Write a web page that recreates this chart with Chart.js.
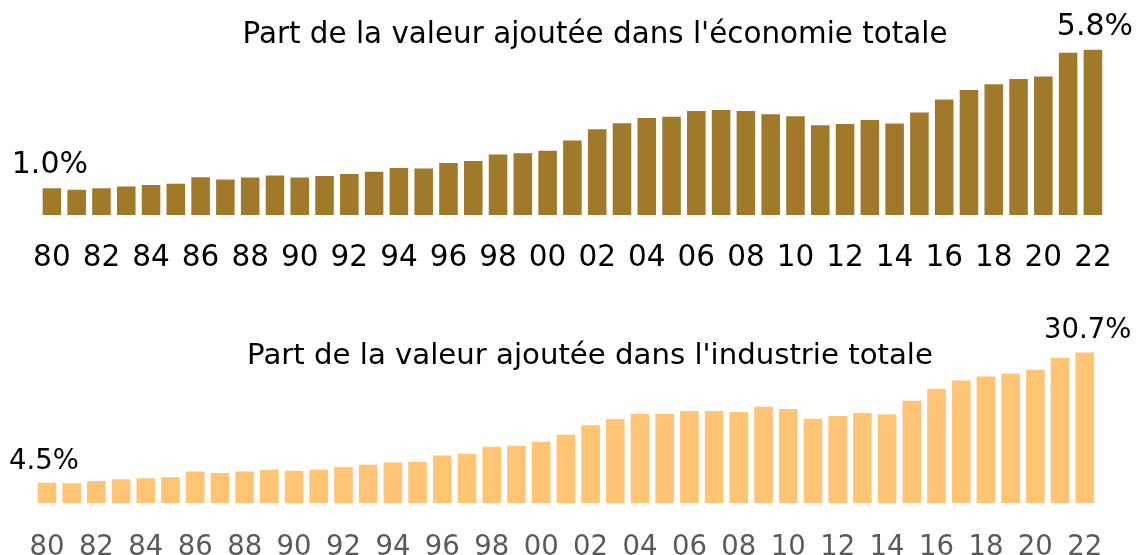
<!DOCTYPE html>
<html><head><meta charset="utf-8">
<script src="https://cdn.jsdelivr.net/npm/chart.js@4.4.1/dist/chart.umd.min.js"></script>
<style>
html,body{margin:0;padding:0;background:#fff;width:1137px;height:555px;overflow:hidden}
canvas{position:absolute;left:0}
</style></head><body>
<canvas id="c1" width="1137" height="280" style="top:0px"></canvas>
<canvas id="c2" width="1137" height="275" style="top:280px"></canvas>
<script>
const years = ['1980','1981','1982','1983','1984','1985','1986','1987','1988','1989',
  '1990','1991','1992','1993','1994','1995','1996','1997','1998','1999',
  '2000','2001','2002','2003','2004','2005','2006','2007','2008','2009',
  '2010','2011','2012','2013','2014','2015','2016','2017','2018','2019',
  '2020','2021','2022'];
const tickLabels = ['80','82','84','86','88','90','92','94','96','98','00',
  '02','04','06','08','10','12','14','16','18','20','22'];
const shareEconomy = [1.00,0.94,1.00,1.06,1.11,1.15,1.38,1.30,1.37,1.44,
  1.37,1.42,1.49,1.57,1.70,1.68,1.87,1.94,2.17,2.21,
  2.30,2.65,3.04,3.25,3.43,3.47,3.67,3.71,3.67,3.56,
  3.49,3.18,3.22,3.36,3.24,3.62,4.07,4.40,4.60,4.78,
  4.87,5.69,5.80];
const shareIndustry = [4.5,4.38,4.85,5.19,5.39,5.60,6.75,6.46,6.75,7.07,
  6.87,7.07,7.62,8.08,8.57,8.69,9.98,10.30,11.72,11.92,
  12.73,14.14,16.04,17.31,18.32,18.32,18.93,18.93,18.73,19.74,
  19.33,17.37,17.92,18.53,18.18,20.95,23.37,25.05,25.86,26.46,
  27.21,29.64,30.7];
const titleEconomy = "Part de la valeur ajoutée dans l'économie totale";
const titleIndustry = "Part de la valeur ajoutée dans l'industrie totale";

const FONT = "'DejaVu Sans', Verdana, sans-serif";

const annot = {
  id: 'annot',
  afterDatasetsDraw(chart, args, opts) {
    const ctx = chart.ctx;
    const meta = chart.getDatasetMeta(0);
    const data = chart.data.datasets[0].data;
    ctx.save();
    ctx.fillStyle = '#000';
    ctx.textAlign = 'center';
    ctx.textBaseline = 'alphabetic';
    ctx.font = opts.labelSize + 'px ' + FONT;
    [0, data.length - 1].forEach(i => {
      const el = meta.data[i];
      const dx = i === 0 ? opts.dxFirst : opts.dxLast;
      ctx.fillText(data[i].toFixed(1) + '%', el.x + dx, el.y - opts.gap);
    });
    ctx.font = opts.titleSize + 'px ' + FONT;
    ctx.fillText(opts.title, opts.titleX, opts.titleY);
    ctx.restore();
  }
};

function makeChart(id, values, cfg) {
  return new Chart(document.getElementById(id), {
    type: 'bar',
    data: {
      labels: years,
      datasets: [{
        data: values,
        backgroundColor: cfg.color,
        borderColor: cfg.border,
        borderWidth: 1,
        borderSkipped: false,
        categoryPercentage: 1,
        barPercentage: cfg.barPct
      }]
    },
    options: {
      responsive: false,
      animation: false,
      layout: { padding: cfg.padding },
      plugins: {
        legend: { display: false },
        tooltip: { enabled: false },
        title: { display: false },
        annot: cfg.annot
      },
      scales: {
        x: {
          grid: { display: false, drawTicks: false },
          border: { display: false },
          ticks: {
            autoSkip: false, maxRotation: 0, minRotation: 0,
            padding: cfg.tickPad,
            color: cfg.tickColor,
            font: { family: FONT, size: cfg.tickSize },
            callback: (v, i) => (i % 2 === 0 ? tickLabels[i / 2] : '')
          },
          afterFit: s => { s.height = cfg.axisH; }
        },
        y: { display: false, min: 0, max: cfg.yMax }
      }
    },
    plugins: [annot]
  });
}

makeChart('c1', shareEconomy, {
  color: '#A07A2A', border: 'rgba(255,255,255,0.45)', barPct: 0.83,
  padding: { left: 39.5, right: 27.5, top: 14, bottom: 0 },
  tickPad: 25, tickColor: '#000', tickSize: 29.5, axisH: 64, yMax: 7,
  annot: { labelSize: 30, gap: 14, dxFirst: -2, dxLast: 2, titleSize: 29.4, title: titleEconomy, titleX: 595, titleY: 43 }
});

makeChart('c2', shareIndustry, {
  color: '#FFC474', border: 'rgba(255,255,255,0.6)', barPct: 0.834,
  padding: { left: 34.6, right: 39.9, top: 50, bottom: 0 },
  tickPad: 27, tickColor: '#5a5a5a', tickSize: 27.5, axisH: 51, yMax: 35,
  annot: { labelSize: 27.5, gap: 13, dxFirst: -3, dxLast: 3, titleSize: 29.2, title: titleIndustry, titleX: 590, titleY: 84 }
});
</script>
</body></html>
